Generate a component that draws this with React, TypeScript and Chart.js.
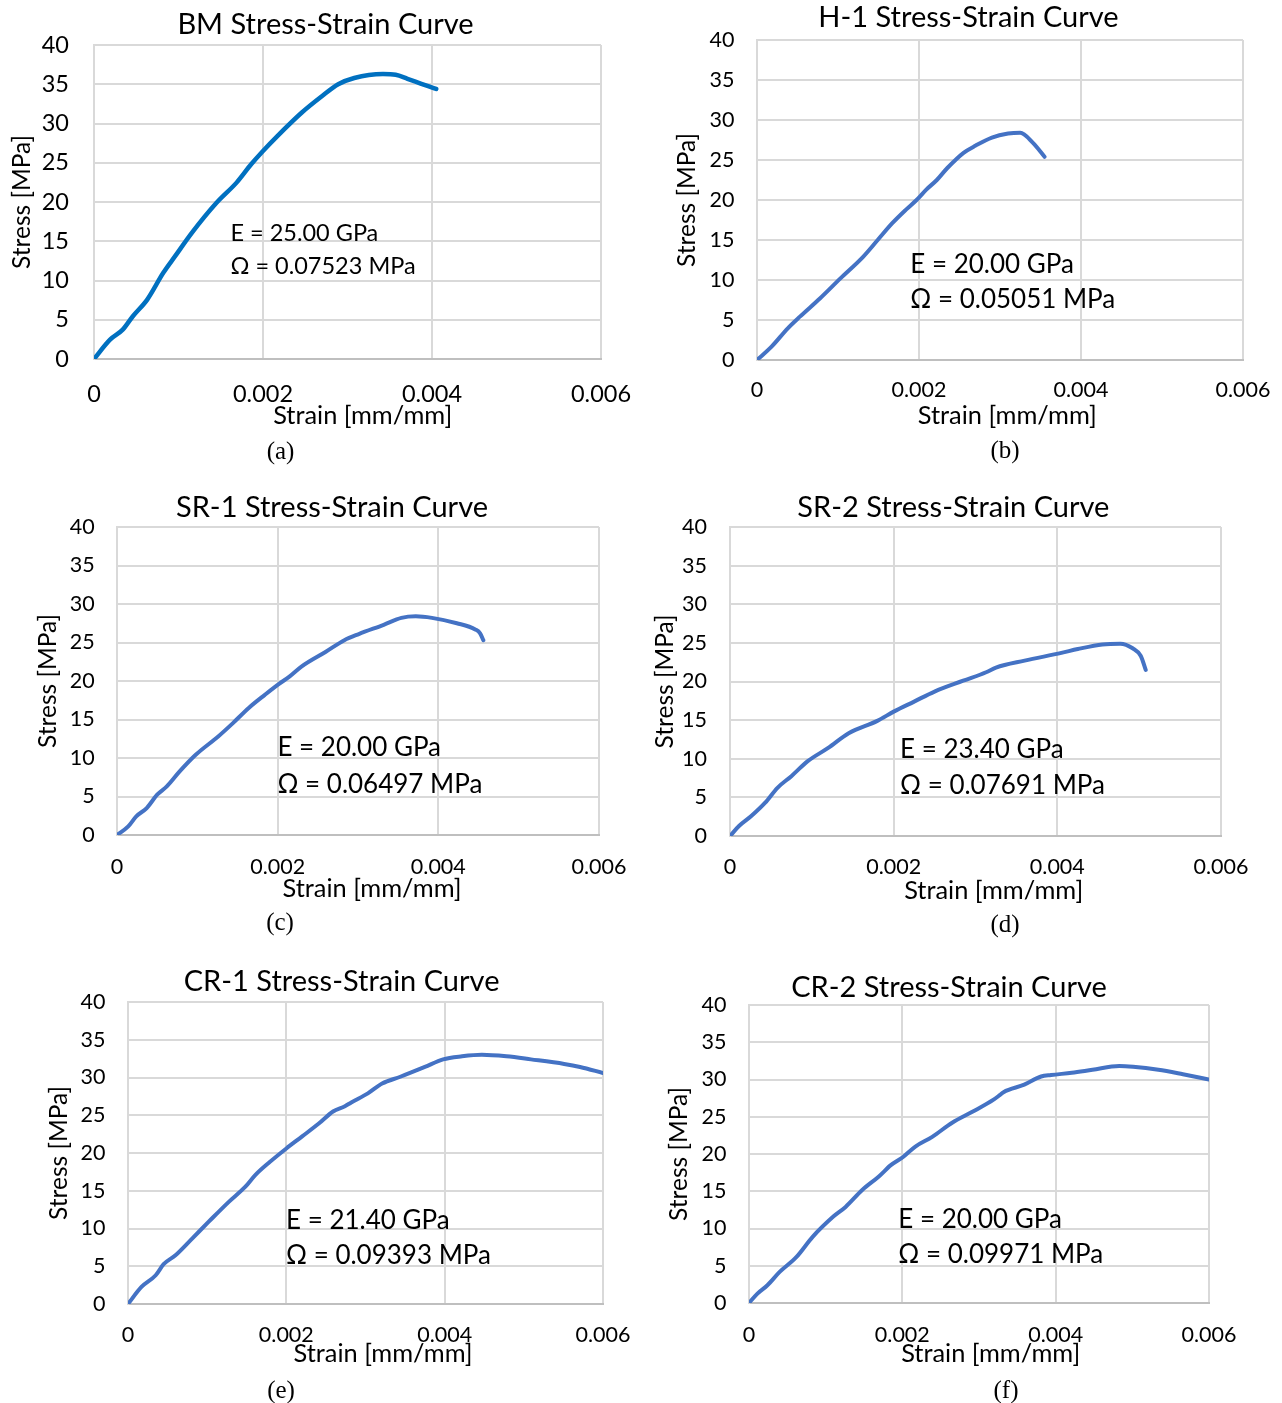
import React, { useEffect, useRef } from 'react';
import { Chart, registerables } from 'chart.js';

Chart.register(...registerables);

// ---------------- data ----------------
const xTickValues = [0, 0.002, 0.004, 0.006];
const xTickLabels = ['0', '0.002', '0.004', '0.006'];
const yTickValues = [0, 5, 10, 15, 20, 25, 30, 35, 40];
const yTickLabels = ['0', '5', '10', '15', '20', '25', '30', '35', '40'];

const xAxisTitle = 'Strain [mm/mm]';
const yAxisTitle = 'Stress [MPa]';

const panelTitles = [
  'BM Stress-Strain Curve',
  'H-1 Stress-Strain Curve',
  'SR-1 Stress-Strain Curve',
  'SR-2 Stress-Strain Curve',
  'CR-1 Stress-Strain Curve',
  'CR-2 Stress-Strain Curve',
];
const panelCaptions = ['(a)', '(b)', '(c)', '(d)', '(e)', '(f)'];
const modulusLabels = [
  'E = 25.00 GPa',
  'E = 20.00 GPa',
  'E = 20.00 GPa',
  'E = 23.40 GPa',
  'E = 21.40 GPa',
  'E = 20.00 GPa',
];
const omegaLabels = [
  'Ω = 0.07523 MPa',
  'Ω = 0.05051 MPa',
  'Ω = 0.06497 MPa',
  'Ω = 0.07691 MPa',
  'Ω = 0.09393 MPa',
  'Ω = 0.09971 MPa',
];

const bmStrain = [0, 0.00019, 0.00034, 0.00046, 0.00063, 0.00082, 0.00096, 0.00116, 0.00145, 0.00169, 0.00186, 0.002, 0.00217, 0.00246, 0.0027, 0.00289, 0.00308, 0.00342, 0.00357, 0.00371, 0.00405];
const bmStress = [0, 2.47, 3.74, 5.45, 7.57, 10.98, 13.1, 16.1, 19.9, 22.5, 24.8, 26.5, 28.4, 31.4, 33.5, 35.0, 35.8, 36.3, 36.2, 35.7, 34.4];

const h1Strain = [0, 0.00018, 0.00038, 0.00053, 0.00078, 0.00103, 0.00131, 0.00149, 0.00167, 0.00184, 0.00197, 0.00209, 0.00222, 0.00235, 0.00255, 0.0027, 0.0029, 0.0031, 0.00325, 0.00341, 0.00355];
const h1Stress = [0, 1.67, 3.96, 5.42, 7.72, 10.2, 12.9, 15.0, 17.1, 18.8, 20.0, 21.3, 22.5, 24.0, 25.9, 26.8, 27.8, 28.3, 28.4, 27.1, 25.4];

const sr1Strain = [0, 0.00014, 0.00024, 0.00037, 0.0005, 0.00062, 0.00078, 0.00098, 0.00126, 0.00144, 0.00164, 0.00184, 0.002, 0.00215, 0.0023, 0.0026, 0.00283, 0.00301, 0.00332, 0.00354, 0.00372, 0.00392, 0.00423, 0.00446, 0.00452, 0.00456];
const sr1Stress = [0, 1.12, 2.42, 3.5, 5.23, 6.31, 8.26, 10.42, 12.8, 14.5, 16.5, 18.2, 19.5, 20.6, 21.9, 23.8, 25.3, 26.1, 27.3, 28.2, 28.4, 28.2, 27.5, 26.7, 26.2, 25.3];

const sr2Strain = [0, 0.00011, 0.00026, 0.00043, 0.00058, 0.00075, 0.00095, 0.0012, 0.00145, 0.0018, 0.002, 0.00225, 0.0025, 0.00285, 0.00313, 0.00325, 0.0036, 0.00405, 0.00425, 0.00455, 0.00477, 0.00492, 0.00502, 0.00508];
const sr2Stress = [0, 1.29, 2.58, 4.31, 6.24, 7.75, 9.69, 11.4, 13.3, 14.9, 16.1, 17.4, 18.7, 20.1, 21.2, 21.8, 22.7, 23.7, 24.2, 24.8, 24.9, 24.3, 23.3, 21.5];

const cr1Strain = [0, 0.00017, 0.00035, 0.00045, 0.0006, 0.00081, 0.00102, 0.00127, 0.00148, 0.00161, 0.00179, 0.002, 0.0022, 0.00241, 0.00259, 0.00274, 0.00282, 0.00303, 0.00321, 0.00344, 0.00375, 0.00398, 0.00422, 0.00447, 0.00478, 0.00509, 0.00551, 0.00571, 0.006];
const cr1Stress = [0, 2.26, 3.81, 5.27, 6.46, 8.67, 10.9, 13.5, 15.5, 17.1, 18.8, 20.6, 22.2, 23.9, 25.5, 26.2, 26.7, 27.9, 29.2, 30.1, 31.4, 32.4, 32.8, 33.0, 32.8, 32.4, 31.8, 31.4, 30.6];

const cr2Strain = [0, 0.00011, 0.00024, 0.0004, 0.00062, 0.00083, 0.0011, 0.00126, 0.00148, 0.00169, 0.00185, 0.00201, 0.00217, 0.00239, 0.00265, 0.00292, 0.00319, 0.00327, 0.00332, 0.00359, 0.00381, 0.00394, 0.00421, 0.00448, 0.00483, 0.00501, 0.00534, 0.00566, 0.006];
const cr2Stress = [0, 1.26, 2.38, 4.17, 6.19, 8.88, 11.6, 12.9, 15.2, 16.95, 18.5, 19.6, 21.0, 22.3, 24.2, 25.7, 27.3, 27.9, 28.3, 29.3, 30.4, 30.6, 30.9, 31.3, 31.8, 31.7, 31.3, 30.7, 30.0];

const seriesStrain = [bmStrain, h1Strain, sr1Strain, sr2Strain, cr1Strain, cr2Strain];
const seriesStress = [bmStress, h1Stress, sr1Stress, sr2Stress, cr1Stress, cr2Stress];

// ---------------- layout / styles ----------------
const FONT = 'Lato, "Open Sans", "DejaVu Sans", sans-serif';
const SERIF = '"Liberation Serif", "Times New Roman", serif';
const TITLE_SIZE = 29;
const X_TITLE_SIZE = 25.4;
const Y_TITLE_SIZE = 24.5;
const CAPTION_SIZE = 25;
const CAP_RATIO = 0.358; // half of Lato cap height / em
const PAREN_RATIO = 0.26; // centre of a serif parenthesis above baseline / em
const X_AXIS_HEIGHT = 60;

type PanelStyle = {
  ox: number; oy: number; w: number; h: number;
  L: number; R: number; T: number; B: number;
  titleX: number; titleY: number;
  xTitleX: number; xTitleY: number;
  yTitleX: number; yTickGap: number; xTickY: number;
  annX: number; annY1: number; annY2: number;
  capX: number; capY: number;
  tickSize: number; annSize: number;
  color: string; lineW: number;
};

const panelStyles: PanelStyle[] = [
  { ox: 0, oy: 0, w: 641, h: 470, L: 94, R: 601, T: 45, B: 359, titleX: 325.5, titleY: 24, xTitleX: 362.7, xTitleY: 415, yTitleX: 22, yTickGap: 25, xTickY: 394, annX: 230.4, annY1: 232.5, annY2: 265.5, capX: 280.5, capY: 452, tickSize: 23.5, annSize: 23.5, color: '#0070C0', lineW: 4.5 },
  { ox: 641, oy: 0, w: 641, h: 470, L: 757, R: 1243, T: 40, B: 360, titleX: 968.5, titleY: 16.5, xTitleX: 1007.3, xTitleY: 415, yTitleX: 687.5, yTickGap: 22.5, xTickY: 390, annX: 910.3, annY1: 263.5, annY2: 298.5, capX: 1005, capY: 451.7, tickSize: 21.5, annSize: 26, color: '#4472C4', lineW: 4 },
  { ox: 0, oy: 470, w: 641, h: 470, L: 117, R: 599, T: 527, B: 835, titleX: 332, titleY: 506.7, xTitleX: 372, xTitleY: 888.3, yTitleX: 48, yTickGap: 22.4, xTickY: 866.7, annX: 277.4, annY1: 746.7, annY2: 783.3, capX: 280, capY: 923.3, tickSize: 21.5, annSize: 26, color: '#4472C4', lineW: 4 },
  { ox: 641, oy: 470, w: 641, h: 470, L: 730, R: 1221, T: 527, B: 836, titleX: 953.4, titleY: 506.7, xTitleX: 993.7, xTitleY: 890, yTitleX: 665, yTickGap: 23, xTickY: 866.7, annX: 900, annY1: 749, annY2: 785, capX: 1005, capY: 925, tickSize: 21.5, annSize: 26, color: '#4472C4', lineW: 4 },
  { ox: 0, oy: 940, w: 641, h: 463, L: 128, R: 603, T: 1002, B: 1304, titleX: 341.6, titleY: 980.7, xTitleX: 383, xTitleY: 1353.3, yTitleX: 59.4, yTickGap: 22.5, xTickY: 1335, annX: 286, annY1: 1219.3, annY2: 1255, capX: 281, capY: 1391.5, tickSize: 21.5, annSize: 26, color: '#4472C4', lineW: 4 },
  { ox: 641, oy: 940, w: 641, h: 463, L: 749, R: 1209, T: 1005, B: 1303, titleX: 949, titleY: 986.7, xTitleX: 990.7, xTitleY: 1353.3, yTitleX: 679, yTickGap: 22.6, xTickY: 1335, annX: 898.3, annY1: 1218.3, annY2: 1254, capX: 1006, capY: 1391.5, tickSize: 21.5, annSize: 26, color: '#4472C4', lineW: 4 },
];

// draws chart title, x-axis title, the E / Ω annotations and the panel caption
const panelTextPlugin = {
  id: 'panelText',
  afterDraw(chart: any, _args: any, opts: any) {
    const ctx = chart.ctx;
    ctx.save();
    ctx.fillStyle = '#000';
    for (const it of opts.items || []) {
      ctx.font = `${it.size}px ${it.family}`;
      ctx.textAlign = it.align;
      ctx.textBaseline = 'alphabetic';
      ctx.fillText(it.text, it.x, it.y);
    }
    ctx.restore();
  },
};

function Panel({ idx }: { idx: number }) {
  const ref = useRef<HTMLCanvasElement | null>(null);
  const s = panelStyles[idx];

  useEffect(() => {
    if (!ref.current) return;
    const points = seriesStrain[idx].map((x, i) => ({ x, y: seriesStress[idx][i] }));
    const yLineH = Y_TITLE_SIZE * 1.2;
    const yw = s.L - s.yTitleX + yLineH / 2;
    const xTickLineH = s.tickSize * 1.2;
    const xTickPad = s.xTickY - s.B - xTickLineH / 2;
    const padLeft = s.L - s.ox - yw;
    const padRight = s.ox + s.w - s.R;
    const padTop = s.T - s.oy;
    const padBottom = s.oy + s.h - s.B - X_AXIS_HEIGHT;

    const sans = (text: string, x: number, y: number, size: number, align: string) => ({
      text, x: x - s.ox, y: y - s.oy + size * CAP_RATIO, size, align, family: FONT,
    });
    const items = [
      sans(panelTitles[idx], s.titleX, s.titleY, TITLE_SIZE, 'center'),
      sans(xAxisTitle, s.xTitleX, s.xTitleY, X_TITLE_SIZE, 'center'),
      sans(modulusLabels[idx], s.annX, s.annY1, s.annSize, 'left'),
      sans(omegaLabels[idx], s.annX, s.annY2, s.annSize, 'left'),
      {
        text: panelCaptions[idx], x: s.capX - s.ox, y: s.capY - s.oy + CAPTION_SIZE * PAREN_RATIO,
        size: CAPTION_SIZE, align: 'center', family: SERIF,
      },
    ];

    const chart = new Chart(ref.current, {
      type: 'line',
      data: {
        datasets: [
          {
            data: points,
            borderColor: s.color,
            borderWidth: s.lineW,
            pointRadius: 0,
            fill: false,
            cubicInterpolationMode: 'monotone',
            borderCapStyle: 'round',
            borderJoinStyle: 'round',
          },
        ],
      },
      options: {
        responsive: false,
        animation: false,
        layout: { padding: { left: padLeft, right: padRight, top: padTop, bottom: padBottom } },
        plugins: {
          legend: { display: false },
          tooltip: { enabled: false },
          title: { display: false },
          panelText: { items },
        } as any,
        scales: {
          x: {
            type: 'linear',
            min: 0,
            max: 0.006,
            afterBuildTicks: (sc: any) => {
              sc.ticks = xTickValues.map((v) => ({ value: v }));
            },
            afterFit: (sc: any) => {
              sc.height = X_AXIS_HEIGHT;
              sc.paddingLeft = 0;
              sc.paddingRight = 0;
            },
            ticks: {
              autoSkip: false,
              maxRotation: 0,
              minRotation: 0,
              padding: xTickPad,
              color: '#000',
              font: { family: FONT, size: s.tickSize },
              callback: (_v: any, i: number) => xTickLabels[i],
            },
            grid: { color: '#D9D9D9', lineWidth: 2, drawTicks: false },
            border: { display: true, color: '#BFBFBF', width: 2 },
          },
          y: {
            type: 'linear',
            min: 0,
            max: 40,
            afterBuildTicks: (sc: any) => {
              sc.ticks = yTickValues.map((v) => ({ value: v }));
            },
            afterFit: (sc: any) => {
              sc.width = yw;
              sc.paddingTop = 0;
              sc.paddingBottom = 0;
            },
            ticks: {
              autoSkip: false,
              padding: s.yTickGap,
              color: '#000',
              font: { family: FONT, size: s.tickSize },
              callback: (_v: any, i: number) => yTickLabels[i],
            },
            grid: { color: '#D9D9D9', lineWidth: 2, drawTicks: false },
            border: { display: true, color: '#D9D9D9', width: 2 },
            title: {
              display: true,
              text: yAxisTitle,
              color: '#000',
              padding: { top: 0, bottom: 0 },
              font: { family: FONT, size: Y_TITLE_SIZE },
            },
          },
        },
      } as any,
      plugins: [panelTextPlugin as any],
    });
    return () => chart.destroy();
  }, [idx]);

  return (
    <canvas
      ref={ref}
      width={s.w}
      height={s.h}
      style={{ position: 'absolute', left: s.ox, top: s.oy, width: s.w, height: s.h, display: 'block' }}
    />
  );
}

export default function App() {
  return (
    <div
      style={{
        position: 'fixed',
        left: 0,
        top: 0,
        width: 1282,
        height: 1403,
        overflow: 'hidden',
        background: '#fff',
      }}
    >
      {panelStyles.map((_, i) => (
        <Panel key={i} idx={i} />
      ))}
    </div>
  );
}
